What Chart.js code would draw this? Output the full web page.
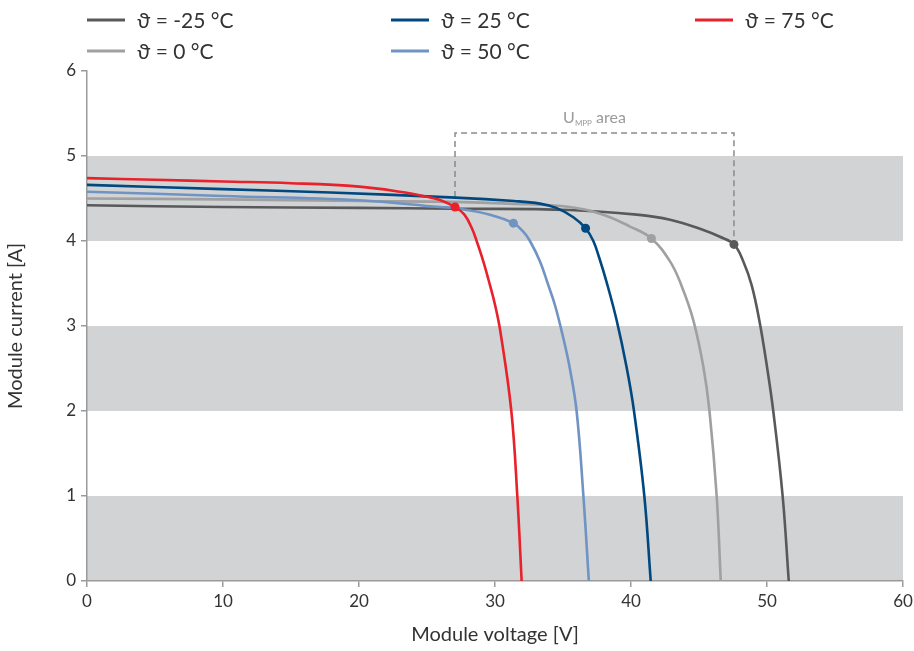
<!DOCTYPE html>
<html>
<head>
<meta charset="utf-8">
<script src="https://cdn.jsdelivr.net/npm/chart.js@4/dist/chart.umd.min.js"></script>
<style>
  html, body { margin: 0; padding: 0; background: #fff; }
  #wrap { width: 914px; height: 651px; }
</style>
</head>
<body>
<div id="wrap"><canvas id="ivChart" width="914" height="651"></canvas></div>
<script>
// I-V curves, one pair of arrays per temperature
const voltM25 = [0, 10, 20, 27, 35.5, 40.42, 42.87, 45.32, 46.54, 47.57, 48.26, 48.87, 49.43, 50.0, 50.46, 51.15, 51.6];
const currM25 = [4.42, 4.40, 4.39, 4.38, 4.365, 4.31, 4.25, 4.13, 4.05, 3.96, 3.76, 3.48, 3.07, 2.52, 2.0, 1.0, 0];

const volt0 = [0, 10, 20, 27, 31, 35.5, 37.96, 39.93, 41.5, 42.87, 43.7, 44.58, 45.32, 45.77, 46.3, 46.6];
const curr0 = [4.50, 4.49, 4.47, 4.46, 4.44, 4.40, 4.31, 4.17, 4.03, 3.76, 3.48, 3.07, 2.52, 2.0, 1.0, 0];

const volt25 = [0, 10, 17.9, 27.1, 31.4, 33.3, 34.5, 35.76, 36.66, 37.23, 37.67, 38.2, 38.94, 39.67, 40.22, 40.98, 41.45];
const curr25 = [4.66, 4.61, 4.57, 4.51, 4.47, 4.44, 4.39, 4.28, 4.15, 4.00, 3.80, 3.52, 3.07, 2.52, 2.0, 1.0, 0];

const volt50 = [0, 10, 20, 25.96, 27.2, 29.63, 31.35, 32.08, 32.57, 33.31, 33.92, 34.4, 34.9, 35.48, 36.0, 36.5, 36.9];
const curr50 = [4.58, 4.53, 4.48, 4.40, 4.385, 4.31, 4.21, 4.11, 4.00, 3.76, 3.48, 3.25, 2.94, 2.52, 2.0, 1.0, 0];

const volt75 = [0, 5, 10, 15, 20, 23, 25, 26, 27.06, 27.75, 28.3, 28.65, 29.14, 29.63, 30.0, 30.4, 31.2, 31.64, 31.96];
const curr75 = [4.74, 4.72, 4.70, 4.68, 4.64, 4.58, 4.52, 4.48, 4.40, 4.31, 4.15, 4.00, 3.76, 3.48, 3.25, 2.93, 2.0, 1.0, 0];

// maximum power points, same order as the series
const seriesNames = ['ϑ = -25 °C', 'ϑ = 0 °C', 'ϑ = 25 °C', 'ϑ = 50 °C', 'ϑ = 75 °C'];
const mppVolt = [47.57, 41.5, 36.66, 31.35, 27.06];
const mppCurr = [3.96, 4.03, 4.15, 4.21, 4.40];

// U_MPP area bracket (from lowest to highest MPP voltage)
const areaVolt = [27.06, 27.06, 47.57, 47.57];
const areaCurr = [4.40, 5.27, 5.27, 3.96];

const bandRanges = [[0, 1], [2, 3], [4, 5]];
const xTicks = [0, 10, 20, 30, 40, 50, 60];
const yTicks = [0, 1, 2, 3, 4, 5, 6];

const colors = ['#58595b', '#9fa0a2', '#00487f', '#6f93c3', '#e8212b'];
const FONT = 'Lato, "Open Sans", sans-serif';

function pts(xs, ys) {
  return xs.map((v, i) => ({ x: v, y: ys[i] }));
}

const curves = [
  pts(voltM25, currM25),
  pts(volt0, curr0),
  pts(volt25, curr25),
  pts(volt50, curr50),
  pts(volt75, curr75)
];

const curveSets = curves.map((d, i) => ({
  label: seriesNames[i],
  data: d,
  borderColor: colors[i],
  backgroundColor: colors[i],
  borderWidth: 2.6,
  pointRadius: 0,
  tension: 0.4,
  showLine: true,
  order: 10 - i
}));

const mppSets = mppVolt.map((v, i) => ({
  label: 'mpp' + i,
  data: [{ x: v, y: mppCurr[i] }],
  pointRadius: 4.5,
  pointBackgroundColor: colors[i],
  pointBorderWidth: 0,
  showLine: false,
  order: 0
}));

const areaSet = {
  label: 'area',
  data: pts(areaVolt, areaCurr),
  borderColor: '#8a8a8a',
  borderWidth: 1.5,
  borderDash: [6, 4],
  pointRadius: 0,
  showLine: true,
  tension: 0,
  order: 20
};

// grey bands behind the curves
const bandsPlugin = {
  id: 'bands',
  beforeDraw(chart) {
    const { ctx, chartArea, scales } = chart;
    ctx.save();
    ctx.fillStyle = '#d1d3d4';
    bandRanges.forEach(r => {
      const y1 = scales.y.getPixelForValue(r[1]);
      const y0 = scales.y.getPixelForValue(r[0]);
      ctx.fillRect(chartArea.left, y1, chartArea.right - chartArea.left, y0 - y1);
    });
    ctx.restore();
  }
};

// legend in three columns and the U_MPP label
const extrasPlugin = {
  id: 'extras',
  afterDraw(chart) {
    const ctx = chart.ctx;
    const slots = [[87, 20], [87, 51], [391, 20], [391, 51], [695, 20]];
    ctx.save();
    ctx.font = '21px ' + FONT;
    ctx.textBaseline = 'middle';
    seriesNames.forEach((name, i) => {
      const [x, y] = slots[i];
      ctx.strokeStyle = colors[i];
      ctx.lineWidth = 3;
      ctx.beginPath();
      ctx.moveTo(x, y);
      ctx.lineTo(x + 38, y);
      ctx.stroke();
      ctx.fillStyle = '#333';
      ctx.fillText(name, x + 50, y + 1);
    });

    // "U_MPP area" above the bracket
    const sx = chart.scales.x, sy = chart.scales.y;
    const cx = (sx.getPixelForValue(areaVolt[1]) + sx.getPixelForValue(areaVolt[2])) / 2;
    const cy = sy.getPixelForValue(areaCurr[1]) - 16;
    ctx.fillStyle = '#9a9a9a';
    ctx.textBaseline = 'alphabetic';
    ctx.font = '16px ' + FONT;
    const wU = ctx.measureText('U').width;
    const wA = ctx.measureText(' area').width;
    ctx.font = '8px ' + FONT;
    const wM = ctx.measureText('MPP').width;
    let x = cx - (wU + wM + wA) / 2;
    const base = cy + 6;
    ctx.font = '16px ' + FONT;
    ctx.fillText('U', x, base);
    x += wU;
    ctx.font = '8px ' + FONT;
    ctx.fillText('MPP', x, base + 3);
    x += wM;
    ctx.font = '16px ' + FONT;
    ctx.fillText(' area', x, base);
    ctx.restore();
  }
};

const ctx = document.getElementById('ivChart').getContext('2d');
new Chart(ctx, {
  type: 'scatter',
  data: { datasets: curveSets.concat(mppSets, [areaSet]) },
  options: {
    responsive: false,
    animation: false,
    layout: { padding: { top: 71, right: 11, left: 0, bottom: 0 } },
    plugins: {
      legend: { display: false },
      tooltip: { enabled: false }
    },
    scales: {
      x: {
        type: 'linear',
        min: 0,
        max: 60,
        afterBuildTicks: s => { s.ticks = xTicks.map(v => ({ value: v })); },
        afterFit: s => { s.height = 70; s.paddingRight = 0; s.paddingLeft = 0; },
        grid: { drawOnChartArea: false, drawTicks: true, tickLength: 6, color: '#9a9a9a', lineWidth: 1.5 },
        border: { display: true, color: '#9a9a9a', width: 1.5 },
        ticks: { color: '#333', font: { family: FONT, size: 17 }, padding: 4 },
        title: { display: true, text: 'Module voltage [V]', color: '#333', font: { family: FONT, size: 20 }, padding: { top: 8 } }
      },
      y: {
        type: 'linear',
        min: 0,
        max: 6,
        afterBuildTicks: s => { s.ticks = yTicks.map(v => ({ value: v })); },
        afterFit: s => { s.width = 87; s.paddingTop = 0; s.paddingBottom = 0; },
        grid: { drawOnChartArea: false, drawTicks: true, tickLength: 6, color: '#9a9a9a', lineWidth: 1.5 },
        border: { display: true, color: '#9a9a9a', width: 1.5 },
        ticks: { color: '#333', font: { family: FONT, size: 17 }, padding: 5 },
        title: { display: true, text: 'Module current [A]', color: '#333', font: { family: FONT, size: 20 }, padding: { bottom: 12 } }
      }
    }
  },
  plugins: [bandsPlugin, extrasPlugin]
});
</script>
</body>
</html>
